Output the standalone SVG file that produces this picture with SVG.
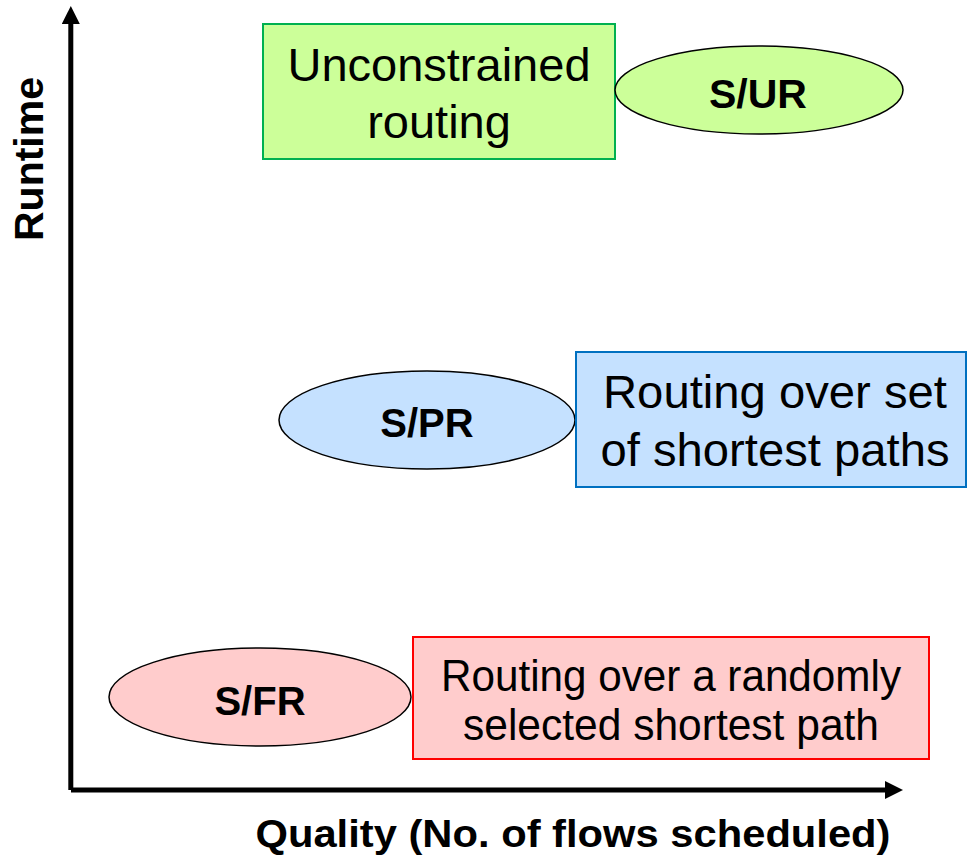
<svg xmlns="http://www.w3.org/2000/svg" width="967" height="857" viewBox="0 0 967 857">
<style>
text{font-family:"Liberation Sans",Arial,sans-serif;fill:#000;text-anchor:middle}
.b{font-weight:bold}
.ell{stroke:#000;stroke-width:1.5}
.axis{stroke:#000;stroke-width:5;fill:none}
</style>
<defs>
<marker id="ah" markerUnits="userSpaceOnUse" markerWidth="18" markerHeight="18" refX="0" refY="9" orient="auto" viewBox="0 0 18 18">
<path d="M0,0 L18,9 L0,18 z" fill="#000"/>
</marker>
</defs>
<rect width="967" height="857" fill="#fff"/>
<g id="axes">
<line class="axis" x1="70.8" y1="790" x2="70.8" y2="24" marker-end="url(#ah)"/>
<line class="axis" x1="71" y1="790" x2="885" y2="790" marker-end="url(#ah)"/>
</g>
<g id="label-runtime">
<text class="b" font-size="41" transform="translate(43,159) rotate(-90)">Runtime</text>
</g>
<g id="label-quality">
<text class="b" font-size="38" x="573" y="847" textLength="635" lengthAdjust="spacingAndGlyphs">Quality (No. of flows scheduled)</text>
</g>
<g id="box-unconstrained">
<rect x="263" y="24" width="352" height="135" fill="#CCFF99" stroke="#00B050" stroke-width="2"/>
<text font-size="47" x="439" y="81">Unconstrained</text>
<text font-size="47" x="439" y="138">routing</text>
</g>
<g id="node-sur">
<ellipse class="ell" cx="759" cy="90" rx="144" ry="44" fill="#CCFF99"/>
<text class="b" font-size="40" x="758" y="108" textLength="98" lengthAdjust="spacingAndGlyphs">S/UR</text>
</g>
<g id="node-spr">
<ellipse class="ell" cx="427" cy="420" rx="148" ry="49" fill="#C5E1FF"/>
<text class="b" font-size="40" x="427" y="437">S/PR</text>
</g>
<g id="box-shortest">
<rect x="576" y="352" width="390" height="135" fill="#C5E1FF" stroke="#0070C0" stroke-width="2"/>
<text font-size="47" x="775" y="408" textLength="344" lengthAdjust="spacingAndGlyphs">Routing over set</text>
<text font-size="47" x="775" y="466" textLength="349" lengthAdjust="spacingAndGlyphs">of shortest paths</text>
</g>
<g id="node-sfr">
<ellipse class="ell" cx="260" cy="697" rx="151" ry="49" fill="#FFCCCC"/>
<text class="b" font-size="40" x="260" y="715">S/FR</text>
</g>
<g id="box-random">
<rect x="413" y="637" width="516" height="122" fill="#FFCCCC" stroke="#FF0000" stroke-width="2"/>
<text font-size="44" x="671" y="691" textLength="460" lengthAdjust="spacingAndGlyphs">Routing over a randomly</text>
<text font-size="44" x="671" y="740" textLength="416" lengthAdjust="spacingAndGlyphs">selected shortest path</text>
</g>
</svg>
